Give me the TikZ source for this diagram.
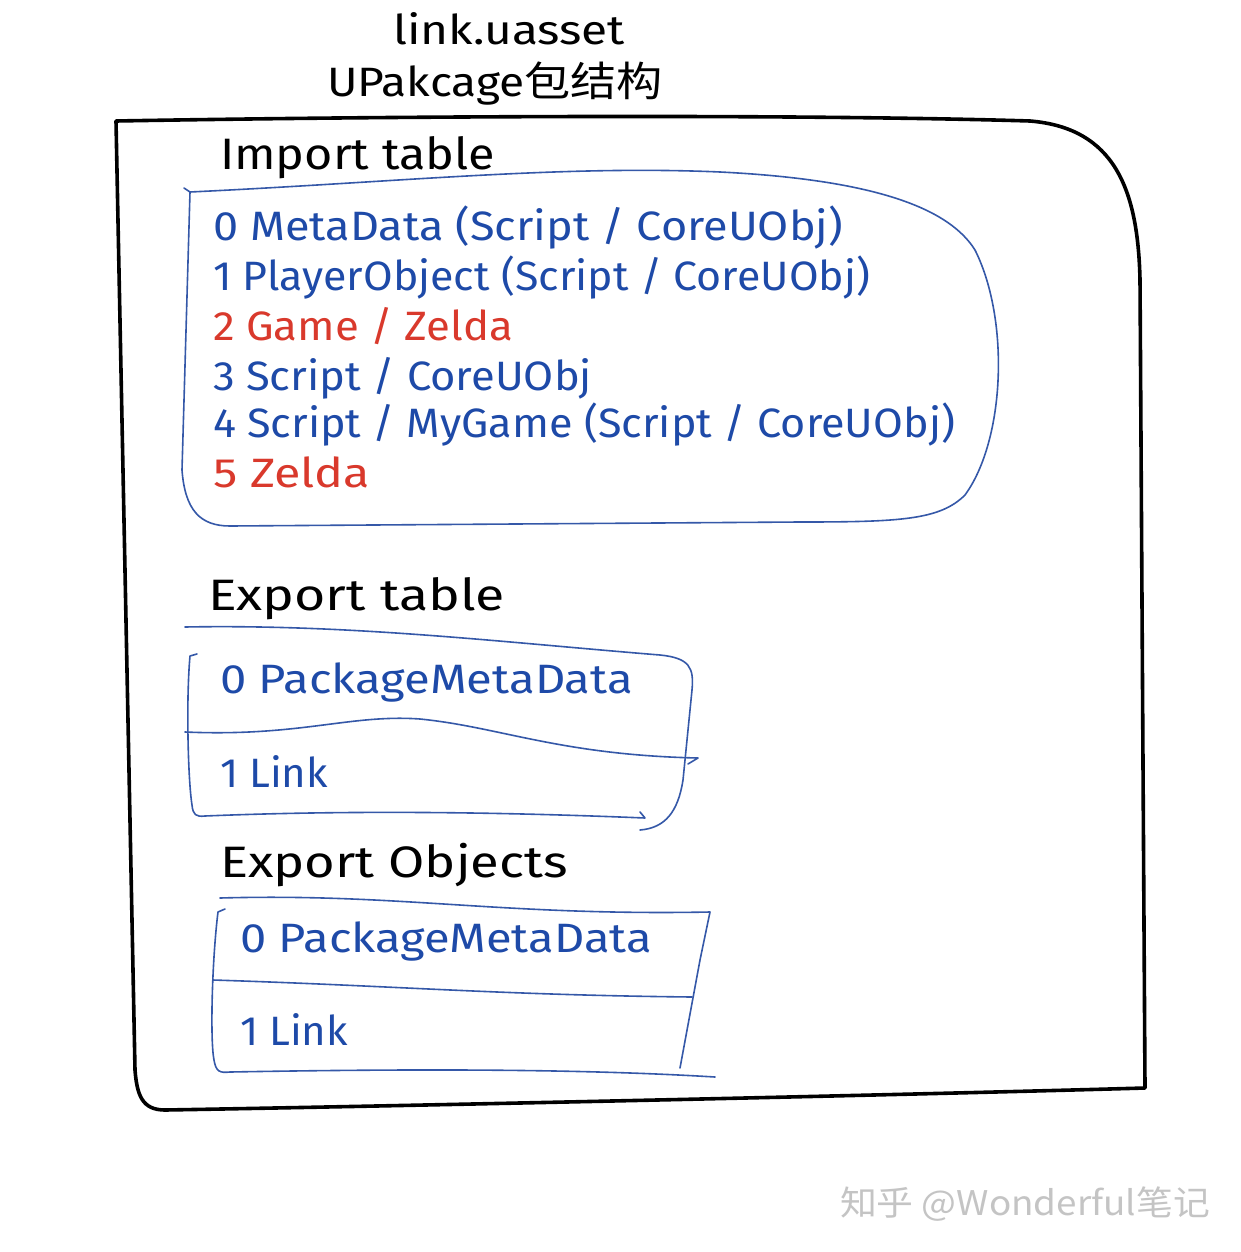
\documentclass[tikz,border=0pt]{standalone}
\usepackage{graphicx}
\usepackage{fontspec}
\setmainfont{Fira Sans}
\newfontfamily\cjkfont{Noto Sans CJK SC}
\definecolor{tblue}{HTML}{1E4AA8}
\definecolor{tred}{HTML}{D9392C}
\definecolor{lblue}{HTML}{3558A8}
\definecolor{wmgrey}{HTML}{C4C4C4}
\newcommand{\wfit}[2]{\resizebox{#1pt}{\height}{#2}}
\begin{document}
\begin{tikzpicture}[x=1pt,y=-1pt,
  base/.style={anchor=base west, inner sep=0pt, outer sep=0pt},
  rowtxt/.style={base, font=\fontsize{41}{46}\selectfont},
  bluetxt/.style={rowtxt, text=tblue},
  redtxt/.style={rowtxt, text=tred},
  headtxt/.style={base, text=black, font=\fontsize{44}{50}\selectfont},
  titletxt/.style={anchor=base, inner sep=0pt, text=black, font=\fontsize{41}{46}\selectfont},
  sketch/.style={draw=lblue, line width=1.6pt, line cap=round, line join=round},
  frameline/.style={draw=black, line width=3.6pt, line cap=round, line join=round}]
\useasboundingbox (0,0) rectangle (1241,1252);
\fill[white] (0,0) rectangle (1241,1252);

% titles
\node[titletxt] (t1) at (509,45) {\wfit{232}{link.uasset}};
\node[titletxt] (t2) at (495,97) {\wfit{336}{UPakcage{\cjkfont 包结构}}};

% outer frame
\path[frameline] (116,121) .. controls (400,116) and (800,114) .. (1030,121)
  .. controls (1115,128) and (1138,190) .. (1140,280)
  -- (1145,1088)
  .. controls (900,1095) and (400,1106) .. (165,1110)
  .. controls (142,1110) and (137,1095) .. (135,1070)
  -- (116,121) -- cycle;

% import table
\node[headtxt] (imp) at (220,170) {\wfit{275}{Import table}};
\path[sketch] (184,188) -- (190,192) .. controls (400,182) and (560,165) .. (720,172)
  .. controls (880,180) and (950,210) .. (975,250)
  .. controls (1010,320) and (1005,440) .. (965,495)
  .. controls (940,520) and (900,522) .. (800,522)
  -- (230,526) .. controls (200,526) and (185,510) .. (182,470)
  -- (190,192);
\node[bluetxt] (i0) at (213,240) {\wfit{630}{0 MetaData (Script / CoreUObj)}};
\node[bluetxt] (i1) at (213,290) {\wfit{657}{1 PlayerObject (Script / CoreUObj)}};
\node[redtxt]  (i2) at (213,340) {\wfit{300}{2 Game / Zelda}};
\node[bluetxt] (i3) at (213,390) {\wfit{379}{3 Script / CoreUObj}};
\node[bluetxt] (i4) at (213,437) {\wfit{742}{4 Script / MyGame (Script / CoreUObj)}};
\node[redtxt]  (i5) at (213,487) {\wfit{157}{5 Zelda}};

% export table
\node[headtxt] (ext) at (208,610) {\wfit{297}{Export table}};
\path[sketch] (185,627) .. controls (350,624) and (500,642) .. (660,655)
  .. controls (690,658) and (694,668) .. (692,690)
  -- (683,780) .. controls (678,812) and (665,828) .. (640,830);
\path[sketch] (197,654) -- (190,656) .. controls (186,700) and (188,780) .. (192,805)
  .. controls (193,815) and (196,817) .. (205,816)
  .. controls (350,810) and (500,812) .. (645,818) -- (640,812);
\path[sketch] (185,732) .. controls (300,737) and (350,714) .. (420,719)
  .. controls (500,727) and (560,755) .. (698,758) -- (688,764);
\node[bluetxt] (e0) at (220,693) {\wfit{413}{0 PackageMetaData}};
\node[bluetxt] (e1) at (220,787) {\wfit{108}{1 Link}};

% export objects
\node[headtxt] (exo) at (220,877) {\wfit{348}{Export Objects}};
\path[sketch] (220,898) .. controls (400,893) and (500,916) .. (710,912)
  -- (700,960) -- (680,1068);
\path[sketch] (225,909) -- (218,912) .. controls (212,960) and (210,1040) .. (214,1060)
  .. controls (216,1072) and (220,1073) .. (230,1072)
  .. controls (450,1068) and (600,1070) .. (715,1077);
\path[sketch] (213,980) .. controls (400,986) and (500,995) .. (692,997);
\node[bluetxt] (o0) at (240,952) {\wfit{412}{0 PackageMetaData}};
\node[bluetxt] (o1) at (240,1045) {\wfit{108}{1 Link}};

% watermark
\node[base, text=wmgrey, font=\cjkfont\fontsize{34}{38}\selectfont] (wm) at (840,1215) {\wfit{370}{知乎 @Wonderful笔记}};
\end{tikzpicture}
\end{document}
